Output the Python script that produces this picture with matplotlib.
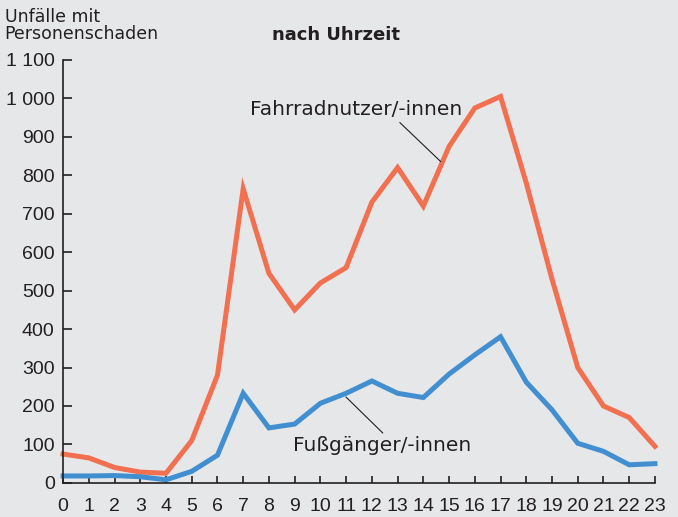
import matplotlib.pyplot as plt
from matplotlib.ticker import FuncFormatter

# Daten: Unfälle mit Personenschaden nach Uhrzeit
hours = list(range(24))
fahrrad = [75, 65, 40, 28, 25, 110, 280, 765, 545, 450, 520, 560,
           730, 820, 720, 875, 975, 1005, 780, 530, 300, 200, 170, 95]
fuss = [18, 18, 19, 16, 8, 30, 72, 233, 143, 153, 207, 233,
        265, 233, 222, 283, 333, 380, 262, 190, 103, 82, 47, 50]
y_ticks = list(range(0, 1101, 100))

bg = '#e6e7e9'
red = '#f2704f'
blue = '#418fd1'
dark = '#231f20'

plt.rcParams['font.family'] = ['DejaVu Sans']

fig = plt.figure(figsize=(6.78, 5.17), dpi=100, facecolor=bg)
ax = fig.add_axes([0.093, 0.066, 0.873, 0.818], facecolor=bg)

ax.plot(hours, fahrrad, color=red, lw=3.6, solid_joinstyle='miter', clip_on=False)
ax.plot(hours, fuss, color=blue, lw=3.6, solid_joinstyle='miter', clip_on=False)

ax.set_xlim(0, 23)
ax.set_ylim(0, 1100)
ax.set_xticks(hours)
ax.set_yticks(y_ticks)
ax.yaxis.set_major_formatter(FuncFormatter(lambda v, p: f"{int(v):,}".replace(",", " ")))

for s in ['top', 'right']:
    ax.spines[s].set_visible(False)
for s in ['left', 'bottom']:
    ax.spines[s].set_color(dark)
    ax.spines[s].set_linewidth(1.2)

ax.tick_params(axis='y', direction='in', length=6.5, width=1.2, color=dark,
               labelsize=14, labelcolor=dark, pad=6)
ax.tick_params(axis='x', direction='in', length=5, width=1.2, color=dark,
               labelsize=14, labelcolor=dark, pad=11)
for lbl in ax.get_xticklabels() + ax.get_yticklabels():
    lbl.set_fontfamily('Liberation Sans')

# Beschriftungen mit Hinweislinien
ax.text(11.4, 970, "Fahrradnutzer/-innen", ha='center', va='center',
        fontsize=14.5, color=dark)
ax.plot([13.09, 14.67], [937, 836], color=dark, lw=0.8)
ax.text(12.4, 97, "Fußgänger/-innen", ha='center', va='center',
        fontsize=14.5, color=dark)
ax.plot([11.0, 12.42], [223, 130], color=dark, lw=0.8)

fig.text(0.007, 0.985, "Unfälle mit\nPersonenschaden", ha='left', va='top',
         fontsize=12.5, color=dark, linespacing=0.95)
fig.text(0.495, 0.932, "nach Uhrzeit", ha='center', va='center',
         fontsize=13, fontweight='bold', color=dark)

fig.savefig('out.png', dpi=100, facecolor=bg)
